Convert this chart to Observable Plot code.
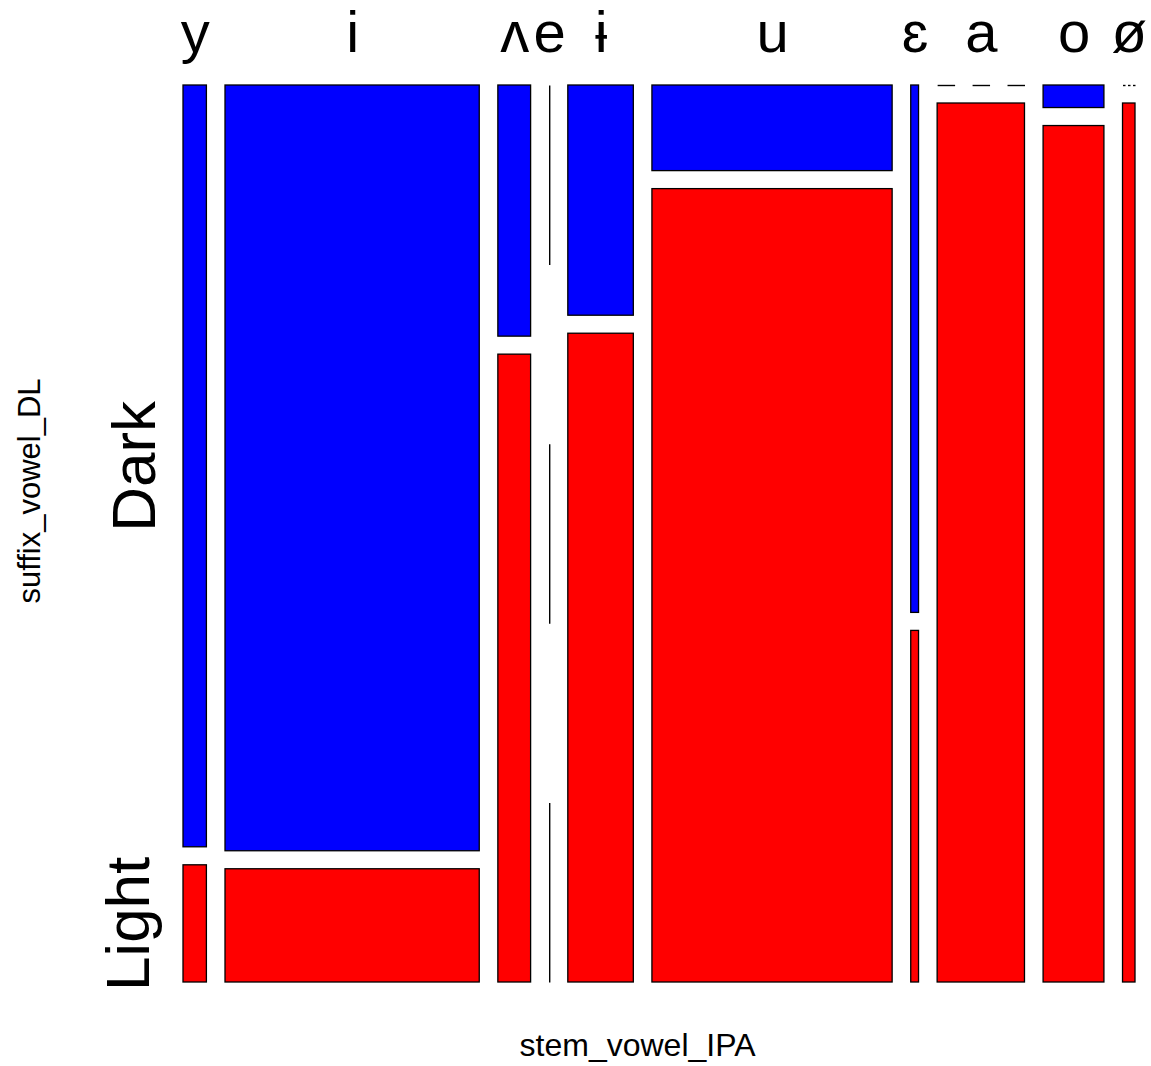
<!DOCTYPE html>
<html><head><meta charset="utf-8">
<script src="https://cdn.jsdelivr.net/npm/d3@7"></script>
<script src="https://cdn.jsdelivr.net/npm/@observablehq/plot@0.6"></script>
<style>body{margin:0;background:#fff} svg{display:block}</style>
</head><body><div id="chart"></div>
<script>
// Data: counts per stem vowel (column) and suffix vowel class (row)
const stemVowels = ["y","i","ʌ","e","ɨ","u","ɛ","a","o","ø"];
const suffixClasses = ["Dark","Light"];
const darkCounts  = [13, 142, 6, 0, 11, 15, 3, 0, 1, 0];
const lightCounts = [2, 21, 15, 0, 31, 139, 2, 56, 38, 8];
const classColors = ["#0000ff", "#ff0000"];
const xTitle = "stem_vowel_IPA";
const yTitle = "suffix_vowel_DL";

// Mosaic layout (normalized units)
const gapX = 0.01954, gapY = 0.02007;
const totals = stemVowels.map((v, i) => darkCounts[i] + lightCounts[i]);
const N = d3.sum(totals);
const availX = 1 - gapX * (stemVowels.length - 1);
let cx = 0;
const cols = stemVowels.map((v, i) => {
  const w = availX * totals[i] / N;
  const c = {v, i, x1: cx, x2: cx + w};
  cx += w + gapX;
  return c;
});
const cells = [], zeroSegs = [];
cols.forEach(c => {
  const t = totals[c.i];
  if (t === 0) {
    for (const k of [0, 2, 4]) zeroSegs.push({x1: c.x1, x2: c.x1, y1: k / 5, y2: (k + 1) / 5});
    return;
  }
  const availY = 1 - gapY;
  const counts = [darkCounts[c.i], lightCounts[c.i]];
  let y = 0;
  counts.forEach((n, j) => {
    const h = availY * n / t;
    if (n === 0) {
      const w = c.x2 - c.x1;
      for (const k of [0, 2, 4]) zeroSegs.push({x1: c.x1 + w * k / 5, x2: c.x1 + w * (k + 1) / 5, y1: y, y2: y});
    } else {
      cells.push({stem: c.v, cls: suffixClasses[j], x1: c.x1, x2: c.x2, y1: y, y2: y + h, col: c.i});
    }
    y += h + gapY;
  });
});
const rowLabels = cells.filter(d => d.col === 0);

const font = "'Liberation Sans', Arial, sans-serif";
const chart = Plot.plot({
  width: 1151, height: 1066,
  marginTop: 85, marginBottom: 84, marginLeft: 183, marginRight: 16,
  style: {fontFamily: font, background: "#fff"},
  x: {domain: [0, 1], axis: null},
  y: {domain: [0, 1], reverse: true, axis: null},
  color: {domain: suffixClasses, range: classColors},
  marks: [
    Plot.rect(cells, {x1: "x1", x2: "x2", y1: "y1", y2: "y2", fill: "cls", stroke: "black", strokeWidth: 1.3}),
    Plot.link(zeroSegs, {x1: "x1", x2: "x2", y1: "y1", y2: "y2", stroke: "black", strokeWidth: 1.4}),
    Plot.text(cols, {x: d => (d.x1 + d.x2) / 2, text: "v", frameAnchor: "top", lineAnchor: "bottom", dy: -34, fontSize: 58, fill: "black"}),
    Plot.text(rowLabels.filter(d => d.cls === "Dark"), {y: d => (d.y1 + d.y2) / 2, text: "cls", frameAnchor: "left", textAnchor: "middle", dx: -48, rotate: -90, fontSize: 62, fill: "black"}),
    Plot.text(rowLabels.filter(d => d.cls === "Light"), {y: d => (d.y1 + d.y2) / 2, text: "cls", frameAnchor: "left", textAnchor: "middle", dx: -54, rotate: -90, fontSize: 62, fill: "black"}),
    Plot.text([xTitle], {text: d => d, frameAnchor: "bottom", textAnchor: "middle", dx: -22, dy: 73, fontSize: 32, fill: "black"}),
    Plot.text([yTitle], {text: d => d, frameAnchor: "left", textAnchor: "middle", dx: -153, dy: -43, rotate: -90, fontSize: 31, fill: "black"})
  ]
});
document.getElementById("chart").appendChild(chart);
</script>
</body></html>
